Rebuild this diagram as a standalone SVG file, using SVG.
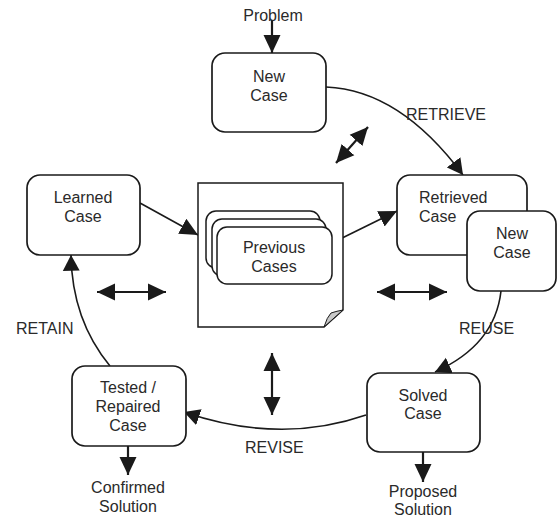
<svg xmlns="http://www.w3.org/2000/svg" width="557" height="517" viewBox="0 0 557 517">
<style>
.box{fill:#fff;stroke:#1a1a1a;stroke-width:1.7}
.card{fill:#fff;stroke:#1a1a1a;stroke-width:1.5}
.t{font-family:"Liberation Sans",Arial,sans-serif;font-size:16px;fill:#2a2a2a}
.m{text-anchor:middle}
.ln{fill:none;stroke:#1a1a1a;stroke-width:1.6}
.bg{fill:none;stroke:#1a1a1a;stroke-width:2.2}
</style>
<defs>
<marker id="big" markerUnits="userSpaceOnUse" markerWidth="20" markerHeight="20" refX="18" refY="9" orient="auto-start-reverse" viewBox="0 0 20 18">
<path d="M0,0.5 L18,9 L0,17.5 Z" fill="#1a1a1a"/>
</marker>
<marker id="sm" markerUnits="userSpaceOnUse" markerWidth="18" markerHeight="18" refX="14" refY="8" orient="auto" viewBox="0 0 16 16">
<path d="M0,0.5 L14,8 L0,15.5 Z" fill="#1a1a1a"/>
</marker>
</defs>

<g id="connectors">
<path class="bg" d="M272,20 L272,53" marker-end="url(#big)"/>
<path class="ln" d="M326,87 Q400,90 463,175" marker-end="url(#sm)"/>
<path class="ln" d="M501,291 Q495,345 435,372" marker-end="url(#sm)"/>
<path class="ln" d="M366,415 Q280,445 184,412" marker-end="url(#sm)"/>
<path class="ln" d="M110,366 Q72,320 71,255" marker-end="url(#sm)"/>
<path class="ln" d="M140,203 L198,235" marker-end="url(#big)"/>
<path class="ln" d="M332,243 L397,211" marker-end="url(#big)"/>
<path class="bg" d="M336,163 L368,127" marker-start="url(#big)" marker-end="url(#big)"/>
<path class="bg" d="M97,292 L166,292" marker-start="url(#big)" marker-end="url(#big)"/>
<path class="bg" d="M377,292 L447,292" marker-start="url(#big)" marker-end="url(#big)"/>
<path class="bg" d="M272,353 L272,415" marker-start="url(#big)" marker-end="url(#big)"/>
<path class="bg" d="M128,446 L128,475" marker-end="url(#big)"/>
<path class="bg" d="M423,452 L423,482" marker-end="url(#big)"/>
<text class="t" x="406" y="120">RETRIEVE</text>
<text class="t" x="459" y="334">REUSE</text>
<text class="t" x="245" y="453">REVISE</text>
<text class="t" x="16" y="334">RETAIN</text>
</g>

<g id="problem">
<text class="t m" x="273" y="21">Problem</text>
</g>

<g id="new-case">
<rect class="box" x="212" y="53" width="114" height="79" rx="13"/>
<text class="t m" x="269" y="82">New</text>
<text class="t m" x="269" y="100.5">Case</text>
</g>

<g id="retrieved-case">
<rect class="box" x="397" y="175" width="130" height="80" rx="13"/>
<text class="t" x="419" y="203">Retrieved</text>
<text class="t" x="419" y="222">Case</text>
</g>

<g id="new-case-2">
<rect class="box" x="467" y="211" width="89" height="80" rx="13"/>
<text class="t m" x="512" y="239">New</text>
<text class="t m" x="512" y="258">Case</text>
</g>

<g id="case-base">
<path d="M198,183 L343,183 L343,310 L324,327 L198,327 Z" fill="#fff" stroke="#1a1a1a" stroke-width="1.5"/>
<path d="M343,310 L324,327 Q327,317 331,313 Q337,311 343,310 Z" fill="#c8c8c8" stroke="#1a1a1a" stroke-width="1"/>
<rect class="card" x="206" y="211" width="114" height="57" rx="10"/>
<rect class="card" x="212" y="219" width="114" height="57" rx="10"/>
<rect class="card" x="217" y="227" width="115" height="57" rx="10"/>
<text class="t m" x="274" y="253">Previous</text>
<text class="t m" x="274" y="272">Cases</text>
</g>

<g id="learned-case">
<rect class="box" x="27" y="175" width="113" height="80" rx="13"/>
<text class="t m" x="83" y="203">Learned</text>
<text class="t m" x="83" y="222">Case</text>
</g>

<g id="tested-case">
<rect class="box" x="72" y="366" width="114" height="80" rx="13"/>
<text class="t m" x="128" y="393">Tested /</text>
<text class="t m" x="128" y="412">Repaired</text>
<text class="t m" x="128" y="431">Case</text>
</g>

<g id="confirmed-solution">
<text class="t m" x="128" y="492.5">Confirmed</text>
<text class="t m" x="128" y="511.5">Solution</text>
</g>

<g id="solved-case">
<rect class="box" x="367" y="373" width="113" height="79" rx="13"/>
<text class="t m" x="423" y="400.5">Solved</text>
<text class="t m" x="423" y="419">Case</text>
</g>

<g id="proposed-solution">
<text class="t m" x="423" y="496.5">Proposed</text>
<text class="t m" x="423" y="515">Solution</text>
</g>
</svg>
